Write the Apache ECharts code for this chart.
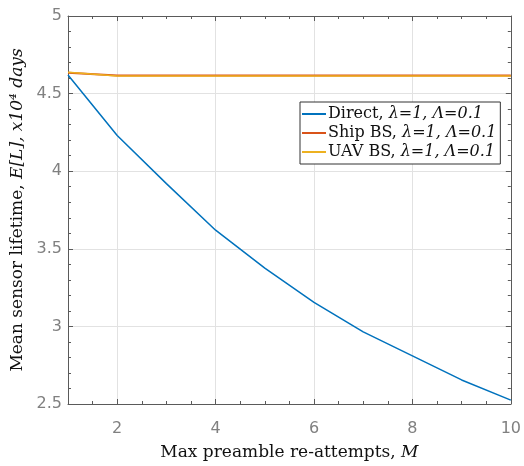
<!DOCTYPE html>
<html><head><meta charset="utf-8">
<script src="https://cdn.jsdelivr.net/npm/echarts@6/dist/echarts.min.js"></script>
<style>html,body{margin:0;padding:0;background:#fff}#c{width:524px;height:466px}</style>
</head><body><div id="c"></div>
<script>
const M = [1, 2, 3, 4, 5, 6, 7, 8, 9, 10];
const direct = [4.62, 4.23, 3.92, 3.62, 3.375, 3.155, 2.965, 2.81, 2.655, 2.525];
const ship = [4.635, 4.617, 4.617, 4.617, 4.617, 4.617, 4.617, 4.617, 4.617, 4.617];
const uav = [4.637, 4.613, 4.613, 4.613, 4.613, 4.613, 4.613, 4.613, 4.613, 4.613];
const seriesNames = ['Direct', 'Ship BS', 'UAV BS'];
const paramText = 'λ=1, Λ=0.1';
const colors = ['#0072BD', '#D95319', '#EDB120'];

const serif = '"DejaVu Serif", "Liberation Serif", serif';
const sans = '"DejaVu Sans", "Liberation Sans", sans-serif';

function pairs(ys) { return M.map((x, i) => [x, ys[i]]); }

const chart = echarts.init(document.getElementById('c'), null, {renderer: 'canvas'});
const axisLineStyle = {color: '#5a5a5a', width: 1};
const baseX = {
  type: 'value', min: 1, max: 10,
  axisLine: {show: true, lineStyle: axisLineStyle},
  axisTick: {show: true, inside: true, length: 5, lineStyle: axisLineStyle},
  minorTick: {show: true, splitNumber: 4, length: 3, lineStyle: axisLineStyle},
};
const baseY = {
  type: 'value', min: 2.5, max: 5, interval: 0.5,
  axisLine: {show: true, lineStyle: axisLineStyle},
  axisTick: {show: true, inside: true, length: 5, lineStyle: axisLineStyle},
  minorTick: {show: true, splitNumber: 5, length: 3, lineStyle: axisLineStyle},
};

chart.setOption({
  animation: false,
  backgroundColor: '#fff',
  grid: {left: 68, right: 12, top: 16, bottom: 56, containLabel: false},
  xAxis: [
    Object.assign({}, baseX, {
      position: 'bottom',
      axisLabel: {show: true, showMinLabel: false, color: '#808080', fontFamily: sans, fontSize: 16, margin: 17},
      splitLine: {show: true, lineStyle: {color: '#e2e2e2', width: 1}},
      name: '{n|Max preamble re-attempts, }{i|M}',
      nameLocation: 'middle', nameGap: 40,
      nameTextStyle: {
        rich: {
          n: {fontFamily: serif, fontSize: 17, color: '#111'},
          i: {fontFamily: serif, fontSize: 17, color: '#111', fontStyle: 'italic'}
        }
      }
    }),
    Object.assign({}, baseX, {
      position: 'top',
      axisLabel: {show: false},
      splitLine: {show: false}
    })
  ],
  yAxis: [
    Object.assign({}, baseY, {
      position: 'left',
      axisLabel: {show: true, color: '#808080', fontFamily: sans, fontSize: 16, margin: 6},
      splitLine: {show: true, lineStyle: {color: '#e2e2e2', width: 1}},
      name: '{n|Mean sensor lifetime, }{i|E[L], x10⁴ days}',
      nameLocation: 'middle', nameGap: 35, nameRotate: 90,
      nameTextStyle: {
        rich: {
          n: {fontFamily: serif, fontSize: 17, color: '#111'},
          i: {fontFamily: serif, fontSize: 17, color: '#111', fontStyle: 'italic'}
        }
      }
    }),
    Object.assign({}, baseY, {
      position: 'right',
      axisLabel: {show: false},
      splitLine: {show: false}
    })
  ],
  legend: {
    orient: 'vertical',
    left: 300, top: 102,
    padding: [4, 4, 4, 2],
    itemGap: 3,
    itemWidth: 24, itemHeight: 2,
    icon: 'rect',
    backgroundColor: '#fff',
    borderColor: '#333', borderWidth: 1,
    data: seriesNames,
    formatter: name => '{n|' + name + ', }{i|' + paramText + '}',
    textStyle: {
      padding: [0, 0, 0, -3],
      rich: {
        n: {fontFamily: serif, fontSize: 16, color: '#111', lineHeight: 18},
        i: {fontFamily: serif, fontSize: 16, color: '#111', fontStyle: 'italic', lineHeight: 18}
      }
    }
  },
  series: [
    {name: seriesNames[0], type: 'line', data: pairs(direct), symbol: 'none', lineStyle: {width: 1.5, color: colors[0]}, itemStyle: {color: colors[0]}, z: 3},
    {name: seriesNames[1], type: 'line', data: pairs(ship), symbol: 'none', lineStyle: {width: 2, color: colors[1]}, itemStyle: {color: colors[1]}, z: 4},
    {name: seriesNames[2], type: 'line', data: pairs(uav), symbol: 'none', lineStyle: {width: 1.5, color: colors[2]}, itemStyle: {color: colors[2]}, z: 5}
  ]
});
</script>
</body></html>
